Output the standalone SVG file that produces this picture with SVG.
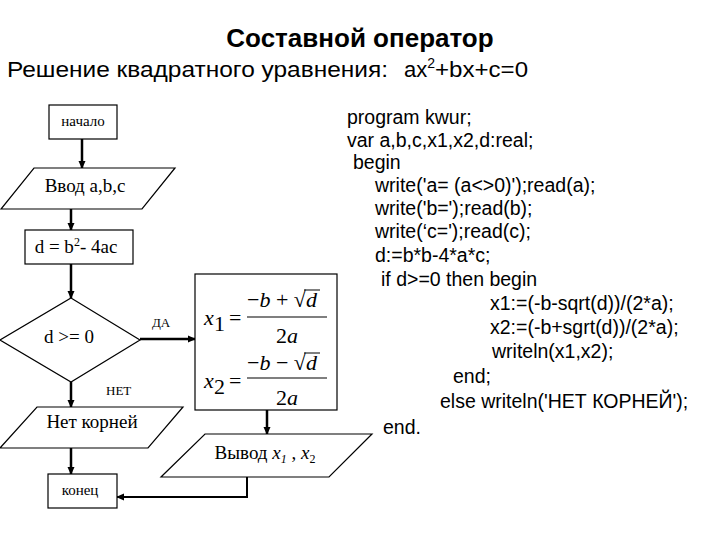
<svg xmlns="http://www.w3.org/2000/svg" width="720" height="540" viewBox="0 0 720 540">
<defs>
<marker id="ah" markerWidth="8" markerHeight="8" refX="7" refY="4" orient="auto" markerUnits="userSpaceOnUse">
<path d="M0,0.5 L8,4 L0,7.5 Z" fill="#000"/>
</marker>
<style>
.node{fill:#fff;stroke:#000;stroke-width:1.2}
.conn{fill:none;stroke:#000;stroke-width:2.5}
.t{font-family:"Liberation Serif","Times New Roman",serif;fill:#000}
.code{font-family:"Liberation Sans",Arial,sans-serif;font-size:19.5px;fill:#000}
.m{font-family:"Liberation Serif","Times New Roman",serif;font-style:italic;font-size:22px;fill:#000}
.mu{font-family:"Liberation Serif","Times New Roman",serif;font-size:22px;fill:#000}
.sub{font-family:"Liberation Sans",Arial,sans-serif;font-size:22px;fill:#000}
</style>
</defs>
<rect width="720" height="540" fill="#fff"/>
<text x="360" y="47" text-anchor="middle" font-family="Liberation Sans, Arial, sans-serif" font-weight="bold" font-size="26">Составной оператор</text>
<text class="sub" x="7" y="77" textLength="381" lengthAdjust="spacingAndGlyphs">Решение квадратного уравнения:</text>
<text class="sub" x="404" y="77" font-size="23">ax<tspan font-size="14" dy="-9">2</tspan><tspan dy="9" textLength="93" lengthAdjust="spacingAndGlyphs">+bx+c=0</tspan></text>

<g id="connectors">
<line class="conn" x1="82" y1="139" x2="82" y2="168" marker-end="url(#ah)"/>
<line class="conn" x1="71" y1="209" x2="71" y2="230" marker-end="url(#ah)"/>
<line class="conn" x1="71" y1="264" x2="71" y2="298" marker-end="url(#ah)"/>
<line class="conn" x1="140" y1="339" x2="195" y2="339" marker-end="url(#ah)"/>
<line class="conn" x1="71" y1="382" x2="71" y2="407" marker-end="url(#ah)"/>
<line class="conn" x1="71" y1="448" x2="71" y2="474" marker-end="url(#ah)"/>
<line class="conn" x1="267" y1="410" x2="267" y2="434" marker-end="url(#ah)"/>
<polyline class="conn" style="stroke-width:2" points="247,477 247,497 117,497" marker-end="url(#ah)"/>
<text class="t" x="152" y="327" font-size="13">ДА</text>
<text class="t" x="106" y="395" font-size="13">НЕТ</text>
</g>

<g id="start">
<rect class="node" x="49" y="105" width="68" height="34"/>
<text class="t" x="83" y="126" font-size="15" text-anchor="middle">начало</text>
</g>
<g id="input">
<polygon class="node" points="34,168 175,168 142,209 1,209"/>
<text class="t" x="85" y="192" font-size="19" text-anchor="middle">Ввод a,b,c</text>
</g>
<g id="discriminant">
<rect class="node" x="25" y="230" width="108" height="34"/>
<text class="t" x="76" y="253" font-size="19" text-anchor="middle">d = b<tspan font-size="12" dy="-7">2</tspan><tspan dy="7">- 4ac</tspan></text>
</g>
<g id="decision">
<polygon class="node" points="71,298 140,340 71,382 0,340"/>
<text class="t" x="69" y="343" font-size="19" text-anchor="middle">d &gt;= 0</text>
</g>
<g id="noroots">
<polygon class="node" points="37,407 183,407 148,448 0,448"/>
<text class="t" x="92" y="428" font-size="19" text-anchor="middle">Нет корней</text>
</g>
<g id="end">
<rect class="node" x="48" y="474" width="69" height="34"/>
<text class="t" x="80" y="495" font-size="15" text-anchor="middle">конец</text>
</g>
<g id="formulas">
<rect class="node" x="195" y="274" width="142" height="136"/>
<text class="m" x="204" y="325">x</text><text class="mu" x="214" y="331" font-size="12">1</text>
<text class="mu" x="229" y="325">=</text>
<text class="mu" x="247" y="307">−<tspan font-style="italic">b</tspan> + √<tspan font-style="italic">d</tspan></text>
<line x1="304" y1="290" x2="320" y2="290" stroke="#000" stroke-width="1"/>
<line x1="247" y1="317" x2="327" y2="317" stroke="#000" stroke-width="1.2"/>
<text class="mu" x="287" y="343" text-anchor="middle">2<tspan font-style="italic">a</tspan></text>
<text class="m" x="204" y="388">x</text><text class="mu" x="214" y="394" font-size="12">2</text>
<text class="mu" x="229" y="388">=</text>
<text class="mu" x="247" y="370">−<tspan font-style="italic">b</tspan> − √<tspan font-style="italic">d</tspan></text>
<line x1="304" y1="353" x2="320" y2="353" stroke="#000" stroke-width="1"/>
<line x1="247" y1="378" x2="327" y2="378" stroke="#000" stroke-width="1.2"/>
<text class="mu" x="287" y="405" text-anchor="middle">2<tspan font-style="italic">a</tspan></text>
</g>
<g id="output">
<polygon class="node" points="205,434 372,434 329,477 161,477"/>
<text class="t" x="265" y="459" font-size="19" text-anchor="middle">Вывод <tspan font-style="italic">x</tspan><tspan font-style="italic" font-size="12" dy="4">1</tspan><tspan dy="-4"> , </tspan><tspan font-style="italic">x</tspan><tspan font-size="12" dy="4">2</tspan></text>
</g>

<g id="code">
<text class="code" x="347" y="124">program kwur;</text>
<text class="code" x="347" y="147">var a,b,c,x1,x2,d:real;</text>
<text class="code" x="353" y="169">begin</text>
<text class="code" x="375" y="192">write('a= (a&lt;&gt;0)');read(a);</text>
<text class="code" x="375" y="215">write('b=');read(b);</text>
<text class="code" x="375" y="238">write(‘c=');read(c);</text>
<text class="code" x="375" y="262">d:=b*b-4*a*c;</text>
<text class="code" x="381" y="286">if d&gt;=0 then begin</text>
<text class="code" x="490" y="310">x1:=(-b-sqrt(d))/(2*a);</text>
<text class="code" x="490" y="334">x2:=(-b+sgrt(d))/(2*a);</text>
<text class="code" x="492" y="358">writeln(x1,x2);</text>
<text class="code" x="453" y="383">end;</text>
<text class="code" x="440" y="408">else writeln('НЕТ КОРНЕЙ');</text>
<text class="code" x="383" y="434">end.</text>
</g>
</svg>
